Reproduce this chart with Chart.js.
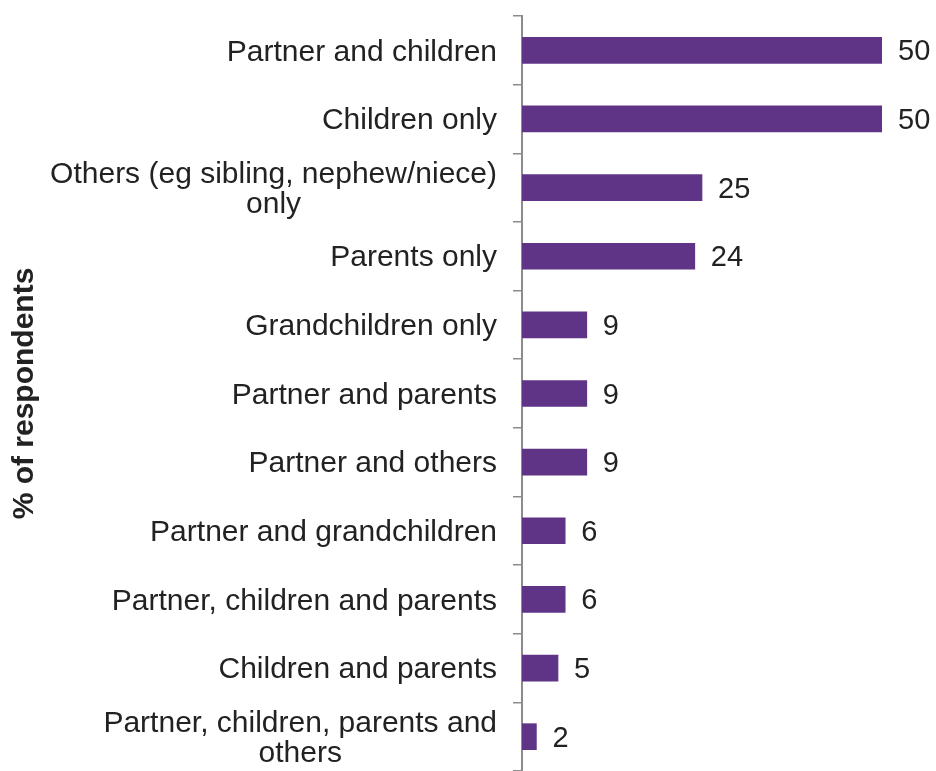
<!DOCTYPE html>
<html>
<head>
<meta charset="utf-8">
<script src="https://cdn.jsdelivr.net/npm/chart.js@4/dist/chart.umd.min.js"></script>
<style>
    html, body { margin: 0; padding: 0; background: #fff; }
    #wrap { width: 936px; height: 771px; position: relative; }
</style>
</head>
<body>
<div id="wrap"><canvas id="relatives-chart"></canvas></div>
<script>
// categories (multi-line ones as arrays) and their values
const categories = [
    'Partner and children',
    'Children only',
    ['Others (eg sibling, nephew/niece)', 'only'],
    'Parents only',
    'Grandchildren only',
    'Partner and parents',
    'Partner and others',
    'Partner and grandchildren',
    'Partner, children and parents',
    'Children and parents',
    ['Partner, children, parents and', 'others']
];
const respondents = [50, 50, 25, 24, 9, 9, 9, 6, 6, 5, 2];
const axisTitle = '% of respondents';

const FONT = '"Liberation Sans", Arial, sans-serif';
const TEXT = '#222222';
const PURPLE = '#5f3487';

// category labels: right-aligned block, lines centered within it
const categoryLabels = {
    id: 'categoryLabels',
    afterDraw(chart) {
        const ctx = chart.ctx;
        const yScale = chart.scales.y;
        const rightEdge = yScale.right - 25;
        ctx.save();
        ctx.font = '30px ' + FONT;
        ctx.fillStyle = TEXT;
        ctx.textBaseline = 'middle';
        categories.forEach((label, i) => {
            const lines = Array.isArray(label) ? label : [label];
            const y = yScale.getPixelForValue(i);
            const lineH = 30;
            const maxW = Math.max(...lines.map(l => ctx.measureText(l).width));
            ctx.textAlign = 'center';
            const cx = rightEdge - maxW / 2;
            lines.forEach((line, j) => {
                const ly = y + (j - (lines.length - 1) / 2) * lineH + 2;
                ctx.fillText(line, cx, ly);
            });
        });

        // rotated axis title
        ctx.font = 'bold 30px ' + FONT;
        ctx.textAlign = 'center';
        ctx.translate(25, (chart.chartArea.top + chart.chartArea.bottom) / 2);
        ctx.rotate(-Math.PI / 2);
        ctx.fillText(axisTitle, 0, 0);
        ctx.restore();
    }
};

// value labels at the end of each bar
const valueLabels = {
    id: 'valueLabels',
    afterDatasetsDraw(chart) {
        const ctx = chart.ctx;
        const meta = chart.getDatasetMeta(0);
        ctx.save();
        ctx.font = '29px ' + FONT;
        ctx.fillStyle = TEXT;
        ctx.textAlign = 'left';
        ctx.textBaseline = 'middle';
        meta.data.forEach((bar, i) => {
            ctx.fillText(String(respondents[i]), bar.x + 16, bar.y + 2);
        });
        ctx.restore();
    }
};

new Chart(document.getElementById('relatives-chart'), {
    type: 'bar',
    data: {
        labels: categories,
        datasets: [{
            data: respondents,
            backgroundColor: PURPLE,
            borderWidth: 0,
            barThickness: 26
        }]
    },
    options: {
        indexAxis: 'y',
        responsive: true,
        maintainAspectRatio: false,
        animation: false,
        layout: { padding: { top: 16, right: 54, bottom: -4, left: 0 } },
        plugins: {
            legend: { display: false },
            tooltip: { enabled: false }
        },
        scales: {
            x: {
                display: false,
                min: 0,
                max: 50
            },
            y: {
                afterFit(scale) { scale.width = 522; },
                ticks: { display: false },
                grid: {
                    display: true,
                    drawOnChartArea: false,
                    drawTicks: true,
                    tickLength: 9,
                    offset: true,
                    color: '#8c8c8c',
                    lineWidth: 1.5
                },
                border: { display: true, color: '#8c8c8c', width: 2 }
            }
        }
    },
    plugins: [categoryLabels, valueLabels]
});
</script>
</body>
</html>
